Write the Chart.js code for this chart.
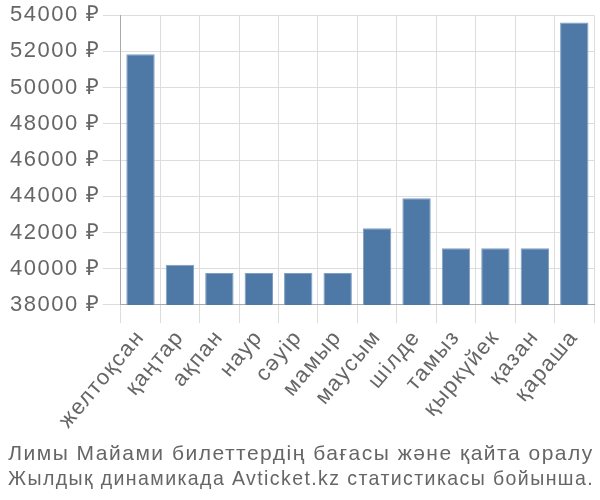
<!DOCTYPE html>
<html>
<head>
<meta charset="utf-8">
<script src="https://cdn.jsdelivr.net/npm/chart.js@4"></script>
<style>
  body { margin: 0; background: #fff; }
  #wrap { width: 600px; height: 500px; }
</style>
</head>
<body>
<div id="wrap"><canvas id="my-chart"></canvas></div>
<script>
'use strict';

let months = ['желтоқсан', 'қаңтар', 'ақпан', 'наур', 'сәуір', 'мамыр', 'маусым', 'шілде', 'тамыз', 'қыркүйек', 'қазан', 'қараша'];
let prices = [51850, 40220, 39770, 39770, 39770, 39770, 42230, 43890, 41130, 41130, 41130, 53600];
let titleLines = ['Лимы Майами билеттердің бағасы және қайта оралу', 'Жылдық динамикада Avticket.kz статистикасы бойынша.'];

Chart.defaults.font.family = '"Liberation Sans", Arial, sans-serif';
Chart.defaults.font.size = 22;
Chart.defaults.color = '#666';

// the reference text is a bit wider spaced than plain Liberation Sans
let spacingPlugin = {
  id: 'spacing',
  beforeUpdate: function (chart) { chart.ctx.letterSpacing = '1.5px'; },
  beforeDraw: function (chart) { chart.ctx.letterSpacing = '1.5px'; }
};

let canvasElem = document.getElementById('my-chart');

let chartObj = {
  type: 'bar',
  data: {
    labels: months,
    datasets: [{
      data: prices,
      backgroundColor: '#4e79a7',
      borderColor: '#7f9fc4',
      borderWidth: 1
    }]
  },
  options: {
    responsive: true,
    maintainAspectRatio: false,
    animation: false,
    layout: { padding: { left: 8, right: 6, top: 2, bottom: 0 } },
    plugins: {
      legend: { display: false },
      tooltip: { enabled: false },
      title: {
        display: true,
        position: 'bottom',
        text: titleLines,
        font: { size: 21, weight: 'normal' },
        color: '#666',
        padding: { top: 6, bottom: 8 }
      }
    },
    scales: {
      x: {
        grid: { color: '#ddd', offset: true, tickLength: 18 },
        border: { color: '#aaa' },
        ticks: { padding: 2, minRotation: 50, maxRotation: 50 }
      },
      y: {
        min: 38000,
        max: 54000,
        grid: { color: '#ddd', tickLength: 18 },
        border: { color: '#aaa' },
        ticks: {
          stepSize: 2000,
          padding: 2,
          callback: function (v) { return v + ' ₽'; }
        }
      }
    }
  },
  plugins: [spacingPlugin]
};

new Chart(canvasElem, chartObj);
</script>
</body>
</html>
